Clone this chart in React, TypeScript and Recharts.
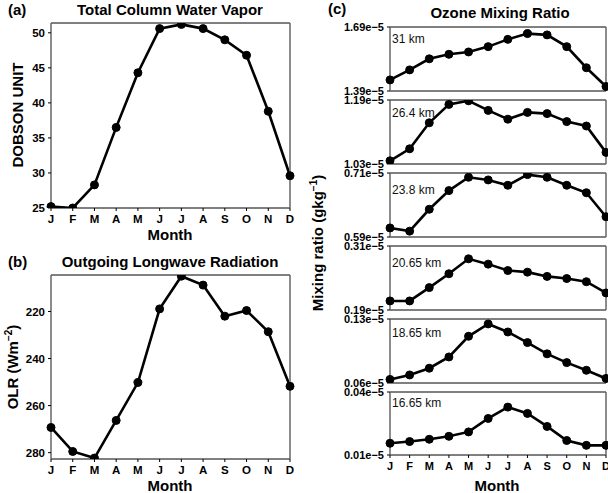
import { Line, LineChart, XAxis, YAxis } from "recharts";

const MONTHS = ["J", "F", "M", "A", "M", "J", "J", "A", "S", "O", "N", "D"];
const MONTH_TICKS = [0, 1, 2, 3, 4, 5, 6, 7, 8, 9, 10, 11];

// (a) total column water vapor, Dobson unit
const TCWV = [25.2, 25.0, 28.3, 36.5, 44.3, 50.6, 51.2, 50.6, 49.0, 46.8, 38.8, 29.6];
const TCWV_TICKS = [25, 30, 35, 40, 45, 50];

// (b) outgoing longwave radiation, W m-2
const OLR = [269.3, 279.5, 282.3, 266.3, 250.2, 218.9, 205.0, 208.8, 222.0, 219.6, 228.6, 251.8];
const OLR_TICKS = [220, 240, 260, 280];

// (c) ozone mixing ratio, in units of 1e-5 g/kg
const OZ_LEVELS = ["31 km", "26.4 km", "23.8 km", "20.65 km", "18.65 km", "16.65 km"];
const OZ_31 = [1.442, 1.489, 1.541, 1.562, 1.573, 1.598, 1.632, 1.659, 1.653, 1.598, 1.499, 1.411];
const OZ_264 = [1.038, 1.068, 1.133, 1.179, 1.188, 1.164, 1.142, 1.159, 1.156, 1.136, 1.125, 1.059];
const OZ_238 = [0.607, 0.601, 0.642, 0.677, 0.702, 0.697, 0.687, 0.707, 0.702, 0.687, 0.673, 0.628];
const OZ_2065 = [0.207, 0.207, 0.232, 0.258, 0.286, 0.276, 0.264, 0.261, 0.253, 0.249, 0.243, 0.222];
const OZ_1865 = [0.0639, 0.0688, 0.0762, 0.0885, 0.1111, 0.1246, 0.1158, 0.1042, 0.0919, 0.0823, 0.0739, 0.065];
const OZ_1665 = [0.0156, 0.0164, 0.0175, 0.0189, 0.021, 0.0274, 0.0328, 0.0298, 0.0236, 0.0169, 0.0146, 0.0146];
const OZ_SERIES = [OZ_31, OZ_264, OZ_238, OZ_2065, OZ_1865, OZ_1665];
const OZ_RANGES: [number, number][] = [
    [1.39, 1.69],
    [1.03, 1.19],
    [0.59, 0.71],
    [0.19, 0.31],
    [0.06, 0.13],
    [0.01, 0.04],
];

const FONT = '"Liberation Sans", Arial, Helvetica, sans-serif';
const FRAME_H = "#000";
const FRAME_V = "#666";

const OZ_TOPS = [28, 101, 174, 247, 320, 393];
const OZ_HEIGHT = 62;
const OZ_LABEL_Y = [39, 113, 190, 263, 333, 403];

interface PanelProps {
    values: number[];
    plotLeft: number;
    plotTop: number;
    plotWidth: number;
    plotHeight: number;
    domain: [number, number];
    yTicks: number[];
    yFormat?: (v: number) => string;
    yWidth: number;
    fontSize: number;
    reversed?: boolean;
    showMonths?: boolean;
}

function Panel({ values, plotLeft, plotTop, plotWidth, plotHeight, domain, yTicks, yFormat, yWidth, fontSize, reversed, showMonths }: PanelProps) {
    const rows = values.map((v, i) => ({ m: i, v }));
    // the frame axes need 1px of room or they are not drawn
    const padTop = 10;
    const padRight = 8;
    const xh = showMonths ? 24 : 1;
    const padBottom = showMonths ? 2 : 10;
    const tickStyle = { fontSize, fontWeight: 700, fill: "#000", fontFamily: FONT };

    return (
        <div style={{ position: "absolute", left: plotLeft - yWidth, top: plotTop - padTop - 1 }}>
            <LineChart
                width={yWidth + plotWidth + padRight + 1}
                height={padTop + 1 + plotHeight + xh + padBottom}
                data={rows}
                margin={{ top: padTop, right: padRight, bottom: padBottom, left: 0 }}
            >
                <XAxis
                    dataKey="m"
                    type="number"
                    domain={[0, 11]}
                    ticks={MONTH_TICKS}
                    interval={0}
                    tickFormatter={(i: number) => MONTHS[i]}
                    height={xh}
                    tick={showMonths ? tickStyle : false}
                    tickSize={3}
                    mirror={!showMonths}
                    tickMargin={4}
                    axisLine={{ stroke: FRAME_H, strokeWidth: 1 }}
                    tickLine={{ stroke: FRAME_H }}
                />
                <XAxis
                    xAxisId="top"
                    dataKey="m"
                    type="number"
                    orientation="top"
                    domain={[0, 11]}
                    ticks={MONTH_TICKS}
                    interval={0}
                    height={1}
                    mirror
                    tick={false}
                    tickSize={3}
                    axisLine={{ stroke: FRAME_H, strokeWidth: 1 }}
                    tickLine={{ stroke: FRAME_H }}
                />
                <YAxis
                    type="number"
                    domain={domain}
                    ticks={yTicks}
                    interval={0}
                    reversed={reversed}
                    allowDataOverflow
                    width={yWidth}
                    tick={tickStyle}
                    tickFormatter={yFormat}
                    tickSize={3}
                    tickMargin={3}
                    axisLine={{ stroke: FRAME_V, strokeWidth: 1.5 }}
                    tickLine={{ stroke: FRAME_H }}
                />
                <YAxis
                    yAxisId="right"
                    orientation="right"
                    type="number"
                    domain={domain}
                    ticks={yTicks}
                    reversed={reversed}
                    allowDataOverflow
                    width={1}
                    mirror
                    tick={false}
                    tickSize={3}
                    axisLine={{ stroke: FRAME_V, strokeWidth: 1.5 }}
                    tickLine={{ stroke: FRAME_H }}
                />
                <Line
                    dataKey="v"
                    stroke="#000"
                    strokeWidth={2.6}
                    dot={{ r: 4, fill: "#000", stroke: "#000", strokeWidth: 1 }}
                    isAnimationActive={false}
                />
            </LineChart>
        </div>
    );
}

const ozFormat = (v: number) => `${v.toFixed(2)}e\u22125`;

export default function App() {
    const bold = { fontFamily: FONT, fontWeight: 700, fill: "#000" };

    return (
        <div style={{ position: "absolute", left: 0, top: 0, width: 608, height: 493, background: "#fff", fontFamily: FONT }}>
            <Panel
                values={TCWV}
                plotLeft={51}
                plotTop={24}
                plotWidth={238}
                plotHeight={184}
                domain={[25, 51.4]}
                yTicks={TCWV_TICKS}
                yWidth={51}
                fontSize={11.5}
                showMonths
            />
            <Panel
                values={OLR}
                plotLeft={51}
                plotTop={276}
                plotWidth={238}
                plotHeight={183}
                domain={[204.5, 282.7]}
                yTicks={OLR_TICKS}
                yWidth={51}
                fontSize={11.5}
                reversed
                showMonths
            />
            {OZ_SERIES.map((series, i) => (
                <Panel
                    key={OZ_LEVELS[i]}
                    values={series}
                    plotLeft={390}
                    plotTop={OZ_TOPS[i]}
                    plotWidth={215}
                    plotHeight={OZ_HEIGHT}
                    domain={OZ_RANGES[i]}
                    yTicks={OZ_RANGES[i]}
                    yFormat={ozFormat}
                    yWidth={70}
                    fontSize={11}
                    showMonths={i === OZ_SERIES.length - 1}
                />
            ))}

            <svg width={608} height={493} style={{ position: "absolute", left: 0, top: 0, pointerEvents: "none" }}>
                <text x={8} y={15} fontSize={15} {...bold}>(a)</text>
                <text x={170} y={15} fontSize={15} textAnchor="middle" {...bold}>Total Column Water Vapor</text>
                <text x={170} y={240} fontSize={15} textAnchor="middle" {...bold}>Month</text>
                <text transform="translate(23,115) rotate(-90)" fontSize={15} textAnchor="middle" {...bold}>DOBSON UNIT</text>

                <text x={8} y={267} fontSize={15} {...bold}>(b)</text>
                <text x={170} y={267} fontSize={15} textAnchor="middle" {...bold}>Outgoing Longwave Radiation</text>
                <text x={170} y={491} fontSize={15} textAnchor="middle" {...bold}>Month</text>
                <text transform="translate(18,367) rotate(-90)" fontSize={15} textAnchor="middle" {...bold}>
                    OLR (Wm<tspan dy={-6} fontSize={10}>−2</tspan><tspan dy={6}>)</tspan>
                </text>

                <text x={328} y={14} fontSize={15} {...bold}>(c)</text>
                <text x={500} y={18} fontSize={15} textAnchor="middle" {...bold}>Ozone Mixing Ratio</text>
                <text x={497} y={491} fontSize={15} textAnchor="middle" {...bold}>Month</text>
                <text transform="translate(323,243) rotate(-90)" fontSize={15} textAnchor="middle" {...bold}>
                    Mixing ratio (gkg<tspan dy={-6} fontSize={10}>−1</tspan><tspan dy={6}>)</tspan>
                </text>

                {OZ_LEVELS.map((name, i) => (
                    <text key={name} x={392} y={OZ_LABEL_Y[i] + 4} fontSize={12} fontFamily={FONT} fill="#111">
                        {name}
                    </text>
                ))}
            </svg>
        </div>
    );
}
